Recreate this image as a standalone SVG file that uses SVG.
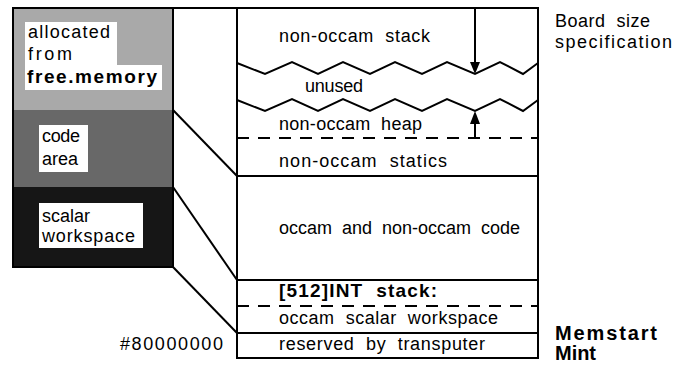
<svg xmlns="http://www.w3.org/2000/svg" width="675" height="365" viewBox="0 0 675 365">
<style>
text{font-family:"Liberation Sans",Arial,sans-serif;font-size:18px;fill:#000;white-space:pre}
.b{font-weight:bold}
.ln{stroke:#000;stroke-width:2;fill:none}
.dash{stroke:#000;stroke-width:1.8;fill:none;stroke-dasharray:12 9}
.wb{fill:#fff}
</style>
<rect width="675" height="365" fill="#fff"/>

<g id="left-stack">
<g id="alloc-block">
<rect x="13" y="8" width="160" height="102" fill="#a9a9a9"/>
<path class="wb" d="M25,22 H117 V65 H162 V90 H25 Z"/>
<text x="28" y="38" textLength="82" lengthAdjust="spacing">allocated</text>
<text x="28" y="60" textLength="44" lengthAdjust="spacing">from</text>
<text class="b" x="27" y="83" style="font-size:19px" textLength="130" lengthAdjust="spacing">free.memory</text>
</g>
<g id="code-block">
<rect x="13" y="110" width="160" height="77" fill="#686868"/>
<rect class="wb" x="39" y="125" width="49" height="47"/>
<text x="42" y="142" textLength="38" lengthAdjust="spacing">code</text>
<text x="42" y="165" textLength="36" lengthAdjust="spacing">area</text>
</g>
<g id="scalar-block">
<rect x="13" y="187" width="160" height="80" fill="#161616"/>
<rect class="wb" x="39" y="203" width="104" height="45"/>
<text x="42" y="222" textLength="48" lengthAdjust="spacing">scalar</text>
<text x="42" y="242" textLength="93" lengthAdjust="spacing">workspace</text>
</g>
<rect class="ln" x="13" y="8" width="160" height="259"/>
</g>

<g id="memory-map">
<rect class="ln" x="237" y="8" width="301" height="350" stroke-width="2.5"/>
<g id="non-occam-stack">
<text x="279" y="42" textLength="151" lengthAdjust="spacing">non-occam  stack</text>
</g>
<g id="unused">
<polyline class="ln" points="237,63 265,74 292,62 318,74 343,62 370,74 395,62 422,74 447,62 475,74 500,62 523,74 538,63"/>
<text x="305" y="92" textLength="58" lengthAdjust="spacing">unused</text>
<polyline class="ln" points="237,100 265,111 292,99 318,111 343,99 370,111 395,99 422,111 447,99 475,111 500,99 523,111 538,100"/>
</g>
<g id="non-occam-heap">
<text x="279" y="130" textLength="143" lengthAdjust="spacing">non-occam  heap</text>
<line class="dash" x1="237" y1="138" x2="538" y2="138"/>
</g>
<g id="non-occam-statics">
<text x="279" y="167" textLength="168" lengthAdjust="spacing">non-occam  statics</text>
<line class="ln" x1="237" y1="176" x2="538" y2="176"/>
</g>
<g id="code">
<text x="279" y="234" textLength="241" lengthAdjust="spacing">occam  and  non-occam  code</text>
<line class="ln" x1="237" y1="280" x2="538" y2="280"/>
</g>
<g id="int-stack">
<text class="b" x="279" y="297" style="font-size:19px" textLength="158" lengthAdjust="spacing">[512]INT  stack:</text>
<line class="dash" x1="237" y1="306" x2="538" y2="306"/>
<text x="279" y="324" textLength="219" lengthAdjust="spacing">occam  scalar  workspace</text>
<line class="ln" x1="237" y1="333" x2="538" y2="333"/>
</g>
<g id="reserved">
<text x="279" y="350" textLength="206" lengthAdjust="spacing">reserved  by  transputer</text>
</g>
</g>

<g id="labels">
<text x="555" y="27" textLength="95" lengthAdjust="spacing">Board  size</text>
<text x="555" y="48" textLength="117" lengthAdjust="spacing">specification</text>
<text class="b" x="555" y="340" style="font-size:20px" textLength="102" lengthAdjust="spacing">Memstart</text>
<text class="b" x="555" y="360" style="font-size:20px" textLength="41" lengthAdjust="spacing">Mint</text>
<text x="120" y="350" textLength="103" lengthAdjust="spacing">#80000000</text>
</g>

<g id="connectors">
<line class="ln" x1="173" y1="8" x2="237" y2="8"/>
<line class="ln" x1="173" y1="110" x2="237" y2="176"/>
<line class="ln" x1="173" y1="187" x2="237" y2="280"/>
<line class="ln" x1="173" y1="267" x2="237" y2="333"/>
<line class="ln" x1="475" y1="8" x2="475" y2="62"/>
<path d="M470,62 L480,62 L475,74 Z" fill="#000"/>
<line class="ln" x1="475" y1="138" x2="475" y2="123"/>
<path d="M470,124 L480,124 L475,111 Z" fill="#000"/>
</g>
</svg>
